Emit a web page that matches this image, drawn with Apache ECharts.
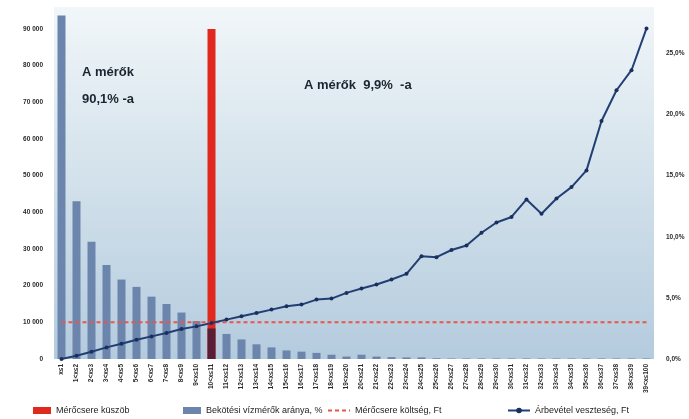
<!DOCTYPE html>
<html>
<head>
<meta charset="utf-8">
<script src="https://cdn.jsdelivr.net/npm/echarts@6/dist/echarts.min.js"></script>
<style>
html,body{margin:0;padding:0;background:#fff;}
#chart{width:689px;height:419px;}
</style>
</head>
<body>
<div id="chart"></div>
<script>
// ---- data ----
const categories = [
  "x≤1","1<x≤2","2<x≤3","3<x≤4","4<x≤5","5<x≤6","6<x≤7","7<x≤8","8<x≤9","9<x≤10",
  "10<x≤11","11<x≤12","12<x≤13","13<x≤14","14<x≤15","15<x≤16","16<x≤17","17<x≤18","18<x≤19","19<x≤20",
  "20<x≤21","21<x≤22","22<x≤23","23<x≤24","24<x≤25","25<x≤26","26<x≤27","27<x≤28","28<x≤29","29<x≤30",
  "30<x≤31","31<x≤32","32<x≤33","33<x≤34","34<x≤35","35<x≤36","36<x≤37","37<x≤38","38<x≤39","39<x≤100"
];
// share of installed water meters, %
const meterShare = [
  28.1,12.9,9.6,7.7,6.5,5.9,5.1,4.5,3.8,3.1,
  2.5,2.05,1.6,1.2,0.95,0.7,0.6,0.5,0.35,0.2,
  0.35,0.2,0.15,0.13,0.13,0.06,0.04,0.04,0.04,0.04,
  0.04,0.04,0.04,0.04,0.04,0.04,0.04,0.04,0.04,0.04
];
// revenue loss, Ft
const revenueLoss = [
  0,900,2000,3170,4180,5270,6170,7100,8200,8900,
  9840,10740,11640,12570,13470,14370,14840,16200,16470,18030,
  19210,20300,21670,23220,28030,27760,29720,30950,34420,37240,
  38740,43520,39610,43790,46880,51440,64910,73300,78760,90160
];
const replacementCost = 10000;      // Mérőcsere költség, Ft
const thresholdIndex = 10;          // Mérőcsere küszöb position
const thresholdValue = 90000;
const leftTicks = {min:0, max:96000, interval:10000};
const rightTicks = {min:0, max:28.8, interval:5};
const seriesNames = ["Mérőcsere küszöb","Bekötési vízmérők aránya, %","Mérőcsere költség, Ft","Árbevétel veszteség, Ft"];
const noteLeft = ["A mérők", "90,1% -a"];
const noteRight = "A mérők  9,9%  -a";

// ---- chart ----
const chart = echarts.init(document.getElementById('chart'), null, {renderer:'canvas'});
const FONT = '"Liberation Sans", Arial, sans-serif';
const thresholdData = categories.map((c,i)=> i===thresholdIndex ? thresholdValue : null);
const shareData = meterShare.map((v,i)=> i===thresholdIndex ? {value:v, itemStyle:{color:'#5a1d36'}} : v);
const costData = categories.map(()=>replacementCost);

const legendText = {fontFamily:FONT, fontSize:9, color:'#222'};
chart.setOption({
  animation:false,
  backgroundColor:'#ffffff',
  grid:{left:54, right:35, top:7, bottom:60, show:true, borderWidth:0,
    backgroundColor:new echarts.graphic.LinearGradient(0,0,0,1,[
      {offset:0,color:'#f1f6f9'},{offset:0.45,color:'#d5e3ec'},{offset:1,color:'#b4cbde'}])},
  legend:[
    {data:[seriesNames[0]], left:28, top:401, itemWidth:18, itemHeight:7, icon:'rect', textStyle:legendText},
    {data:[seriesNames[1]], left:178, top:401, itemWidth:18, itemHeight:7, icon:'rect', textStyle:legendText},
    {data:[seriesNames[2]], left:322, top:401, itemWidth:22, itemHeight:7, itemStyle:{opacity:0}, textStyle:legendText},
    {data:[seriesNames[3]], left:502, top:401, itemWidth:22, itemHeight:7, textStyle:legendText}
  ],
  xAxis:{type:'category', data:categories, boundaryGap:true,
    axisLine:{show:false}, axisTick:{show:false},
    axisLabel:{rotate:90, interval:0, fontSize:6.5, fontWeight:'bold', color:'#2a2a2a', fontFamily:FONT, margin:5}},
  yAxis:[
    {type:'value', min:leftTicks.min, max:leftTicks.max, interval:leftTicks.interval,
      splitLine:{show:false}, axisLine:{show:false}, axisTick:{show:false},
      axisLabel:{showMaxLabel:false, fontSize:6.5, color:'#2a2a2a', fontWeight:'bold', fontFamily:FONT, margin:11,
        formatter:v=> String(v).replace(/\B(?=(\d{3})+(?!\d))/g,' ')}},
    {type:'value', min:rightTicks.min, max:rightTicks.max, interval:rightTicks.interval, position:'right',
      splitLine:{show:false}, axisLine:{show:false}, axisTick:{show:false},
      axisLabel:{showMaxLabel:false, fontSize:6.5, color:'#2a2a2a', fontWeight:'bold', fontFamily:FONT, margin:12,
        formatter:v=> v.toFixed(1).replace('.',',')+'%'}}
  ],
  series:[
    {name:seriesNames[0], type:'bar', yAxisIndex:0, data:thresholdData, barWidth:8, barGap:'-100%',
      itemStyle:{color:'#e0281e'}, z:2},
    {name:seriesNames[1], type:'bar', yAxisIndex:1, data:shareData, barWidth:8, barGap:'-100%',
      itemStyle:{color:'#6c85ad'}, z:3},
    {name:seriesNames[2], type:'line', yAxisIndex:0, data:costData, symbol:'none',
      lineStyle:{color:'#e8564c', width:2, type:[4,3]}, itemStyle:{color:'#e8564c'}, z:4},
    {name:seriesNames[3], type:'line', yAxisIndex:0, data:revenueLoss, symbol:'circle', symbolSize:4,
      lineStyle:{color:'#223f74', width:2}, itemStyle:{color:'#1a2f5e'}, z:5}
  ],
  graphic:[
    {type:'text', left:82, top:66, style:{text:noteLeft[0], font:'bold 13px '+FONT, fill:'#1b2530'}},
    {type:'text', left:82, top:93, style:{text:noteLeft[1], font:'bold 13px '+FONT, fill:'#1b2530'}},
    {type:'text', left:304, top:79, style:{text:noteRight, font:'bold 13px '+FONT, fill:'#1b2530'}}
  ]
});
</script>
</body>
</html>
